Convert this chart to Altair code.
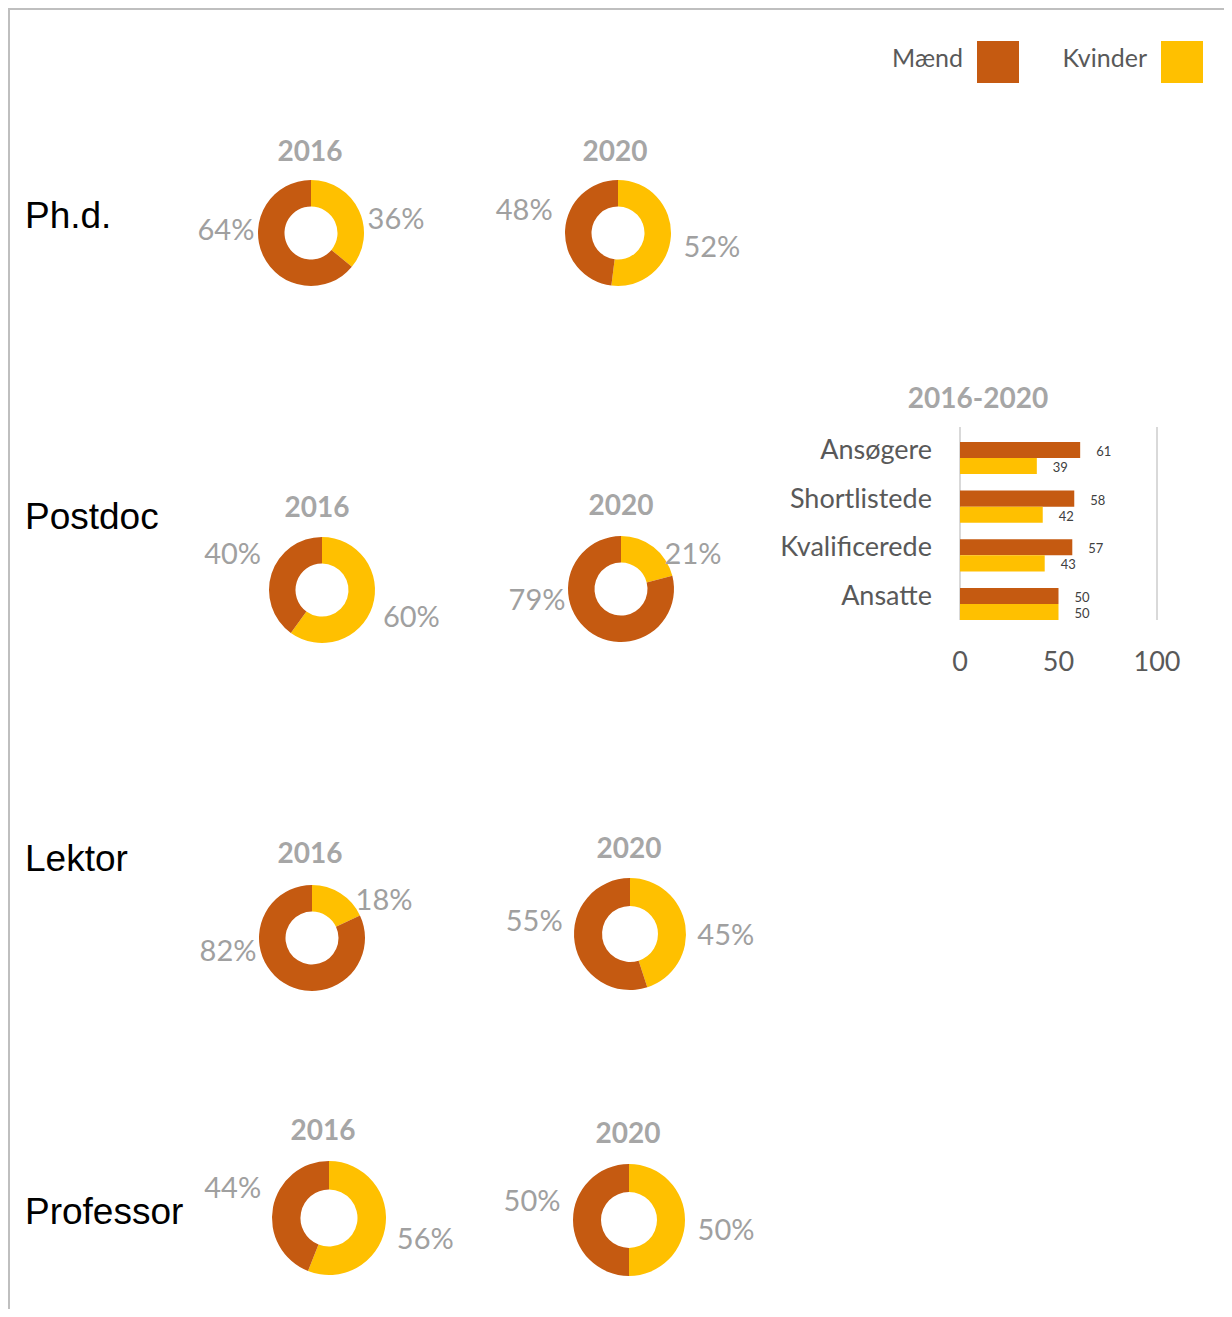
import altair as alt
import pandas as pd

# ---------------- data ----------------
roles = ["Ph.d.", "Postdoc", "Lektor", "Professor"]
years = ["2016", "2020"]
groups = ["Mænd", "Kvinder"]
maend_pct = [[64, 48], [40, 79], [82, 55], [44, 50]]
kvinder_pct = [[36, 52], [60, 21], [18, 45], [56, 50]]

bar_title = "2016-2020"
bar_categories = ["Ansøgere", "Shortlistede", "Kvalificerede", "Ansatte"]
maend_bar = [61, 58, 57, 50]
kvinder_bar = [39, 42, 43, 50]
axis_ticks = [0, 50, 100]
grid_ticks = [0, 100]

colors = ["#C55A11", "#FFC000"]

# ---------------- tables ----------------
rows = []
for i, role in enumerate(roles):
    for j, yr in enumerate(years):
        rows.append({"role": role, "year": yr, "group": "Kvinder", "value": kvinder_pct[i][j], "ord": 0})
        rows.append({"role": role, "year": yr, "group": "Mænd", "value": maend_pct[i][j], "ord": 1})
donut_df = pd.DataFrame(rows)

bar_rows = []
for k, cat in enumerate(bar_categories):
    bar_rows.append({"cat": cat, "group": "Mænd", "value": maend_bar[k]})
    bar_rows.append({"cat": cat, "group": "Kvinder", "value": kvinder_bar[k]})
bar_df = pd.DataFrame(bar_rows)
cat_df = pd.DataFrame({"cat": bar_categories})
tick_df = pd.DataFrame({"t": axis_ticks})
grid_df = pd.DataFrame({"t": grid_ticks})
legend_df = pd.DataFrame({"group": groups})
role_df = pd.DataFrame({"role": roles})
one_df = pd.DataFrame({"a": [0]})

# ---------------- layout (pixels, view coordinates) ----------------
W, H = 1216, 1301
donut_layout = {
    ("Ph.d.", "2016"): (303, 225, 53, 302, 145),
    ("Ph.d.", "2020"): (610, 225, 53, 607, 145),
    ("Postdoc", "2016"): (314, 582, 53, 309, 501),
    ("Postdoc", "2020"): (613, 581, 53, 613, 499),
    ("Lektor", "2016"): (304, 930, 53, 302, 847),
    ("Lektor", "2020"): (622, 926, 56, 621, 842),
    ("Professor", "2016"): (321, 1210, 57, 315, 1124),
    ("Professor", "2020"): (621, 1212, 56, 620, 1127),
}
role_label_y = {"Ph.d.": 209, "Postdoc": 510, "Lektor": 852, "Professor": 1205}
legend_layout = {"Mænd": (955, 969), "Kvinder": (1139, 1153)}

FONT = "Lato"
PCT_GRAY = "#A0A0A0"
TITLE_GRAY = "#A6A6A6"
TEXT_GRAY = "#595959"

color_scale = alt.Scale(domain=groups, range=colors)
x_scale = alt.Scale(domain=[0, 100], range=[952, 1149], nice=False, zero=True)
y_scale = alt.Scale(domain=bar_categories, range=[425.7, 620.3], paddingInner=0.34, paddingOuter=0.17)

layers = []

# frame
layers.append(alt.Chart(one_df).mark_rule(color="#BFBFBF", strokeWidth=2).encode(
    x=alt.value(0), x2=alt.value(W), y=alt.value(1)))
layers.append(alt.Chart(one_df).mark_rule(color="#BFBFBF", strokeWidth=2).encode(
    x=alt.value(1), y=alt.value(0), y2=alt.value(H)))

# legend
for g in groups:
    tx, sx = legend_layout[g]
    layers.append(alt.Chart(legend_df).transform_filter(alt.datum.group == g).mark_text(
        font=FONT, fontSize=25, color=TEXT_GRAY, align="right", baseline="middle").encode(
        x=alt.value(tx), y=alt.value(51), text="group:N"))
    layers.append(alt.Chart(legend_df).transform_filter(alt.datum.group == g).mark_rect().encode(
        x=alt.value(sx), x2=alt.value(sx + 42), y=alt.value(33), y2=alt.value(75),
        color=alt.Color("group:N", scale=color_scale, legend=None)))

# row labels
for role in roles:
    layers.append(alt.Chart(role_df).transform_filter(alt.datum.role == role).mark_text(
        font="Liberation Sans", fontSize=37, color="#000000", align="left", baseline="middle").encode(
        x=alt.value(17), y=alt.value(role_label_y[role]), text="role:N"))

# donuts
for (role, yr), (cx, cy, r, tx, ty) in donut_layout.items():
    base = alt.Chart(donut_df).transform_filter(
        (alt.datum.role == role) & (alt.datum.year == yr))
    layers.append(base.mark_arc(outerRadius=r, innerRadius=r * 0.5).encode(
        theta=alt.Theta("value:Q", stack=True),
        color=alt.Color("group:N", scale=color_scale, legend=None),
        order=alt.Order("ord:Q"),
        x=alt.value(cx), y=alt.value(cy)))
    # year title
    layers.append(base.transform_filter(alt.datum.ord == 0).mark_text(
        font=FONT, fontSize=28, fontWeight="bold", color=TITLE_GRAY, align="center", baseline="middle").encode(
        x=alt.value(tx), y=alt.value(ty), text="year:N"))
    # percentage labels: beside the ring at the slice's mid angle, pulled toward horizontal,
    # kept clear of the ring
    rl = r + 41
    layers.append(base.transform_window(
        cum="sum(value)", sort=[alt.SortField("ord")], frame=[None, 0]
    ).transform_calculate(
        mid="(datum.cum - datum.value / 2) / 100 * 2 * PI",
    ).transform_calculate(
        s="sin(datum.mid)", c="cos(datum.mid)"
    ).transform_calculate(
        lx=f"{cx} + (datum.s >= 0 ? max({rl} * datum.s, 72) : -max(-{rl} * datum.s, 84))",
        ly=(f"{cy} + (datum.s >= 0 ? (-0.6 * {rl} * datum.c + 11)"
            f" : (-(datum.c < 0 ? 0.4 : 0.6) * {rl} * datum.c - 18))"),
        lbl="datum.value + '%'",
    ).mark_text(font=FONT, fontSize=29, color=PCT_GRAY, align="center", baseline="middle").encode(
        x=alt.X("lx:Q", scale=None), y=alt.Y("ly:Q", scale=None), text="lbl:N"))

# bar chart
layers.append(alt.Chart(one_df).mark_text(
    font=FONT, fontSize=28, fontWeight="bold", color=TITLE_GRAY, align="center", baseline="middle").encode(
    x=alt.value(970), y=alt.value(392), text=alt.value(bar_title)))
layers.append(alt.Chart(grid_df).mark_rule(color="#D9D9D9", strokeWidth=2).encode(
    x=alt.X("t:Q", scale=x_scale, axis=None), y=alt.value(419), y2=alt.value(612)))
layers.append(alt.Chart(bar_df).mark_bar().encode(
    x=alt.X("value:Q", scale=x_scale, axis=None),
    y=alt.Y("cat:N", scale=y_scale, axis=None, sort=bar_categories),
    yOffset=alt.YOffset("group:N", sort=groups),
    color=alt.Color("group:N", scale=color_scale, legend=None)))
layers.append(alt.Chart(bar_df).mark_text(
    font=FONT, fontSize=13, color="#404040", align="left", baseline="middle", dx=16, dy=2).encode(
    x=alt.X("value:Q", scale=x_scale, axis=None),
    y=alt.Y("cat:N", scale=y_scale, axis=None, sort=bar_categories),
    yOffset=alt.YOffset("group:N", sort=groups),
    text="value:Q"))
layers.append(alt.Chart(cat_df).mark_text(
    font=FONT, fontSize=27, color=TEXT_GRAY, align="right", baseline="middle", dy=-7).encode(
    x=alt.value(924),
    y=alt.Y("cat:N", scale=y_scale, axis=None, sort=bar_categories),
    text="cat:N"))
layers.append(alt.Chart(tick_df).mark_text(
    font=FONT, fontSize=27, color=TEXT_GRAY, align="center", baseline="middle").encode(
    x=alt.X("t:Q", scale=x_scale, axis=None),
    y=alt.value(655),
    text="t:Q"))

chart = alt.layer(*layers).properties(
    width=W, height=H, padding=0,
    autosize=alt.AutoSizeParams(type="none"),
).configure_view(stroke=None)

chart.save("out.html", embed_options={"renderer": "svg", "actions": False})
